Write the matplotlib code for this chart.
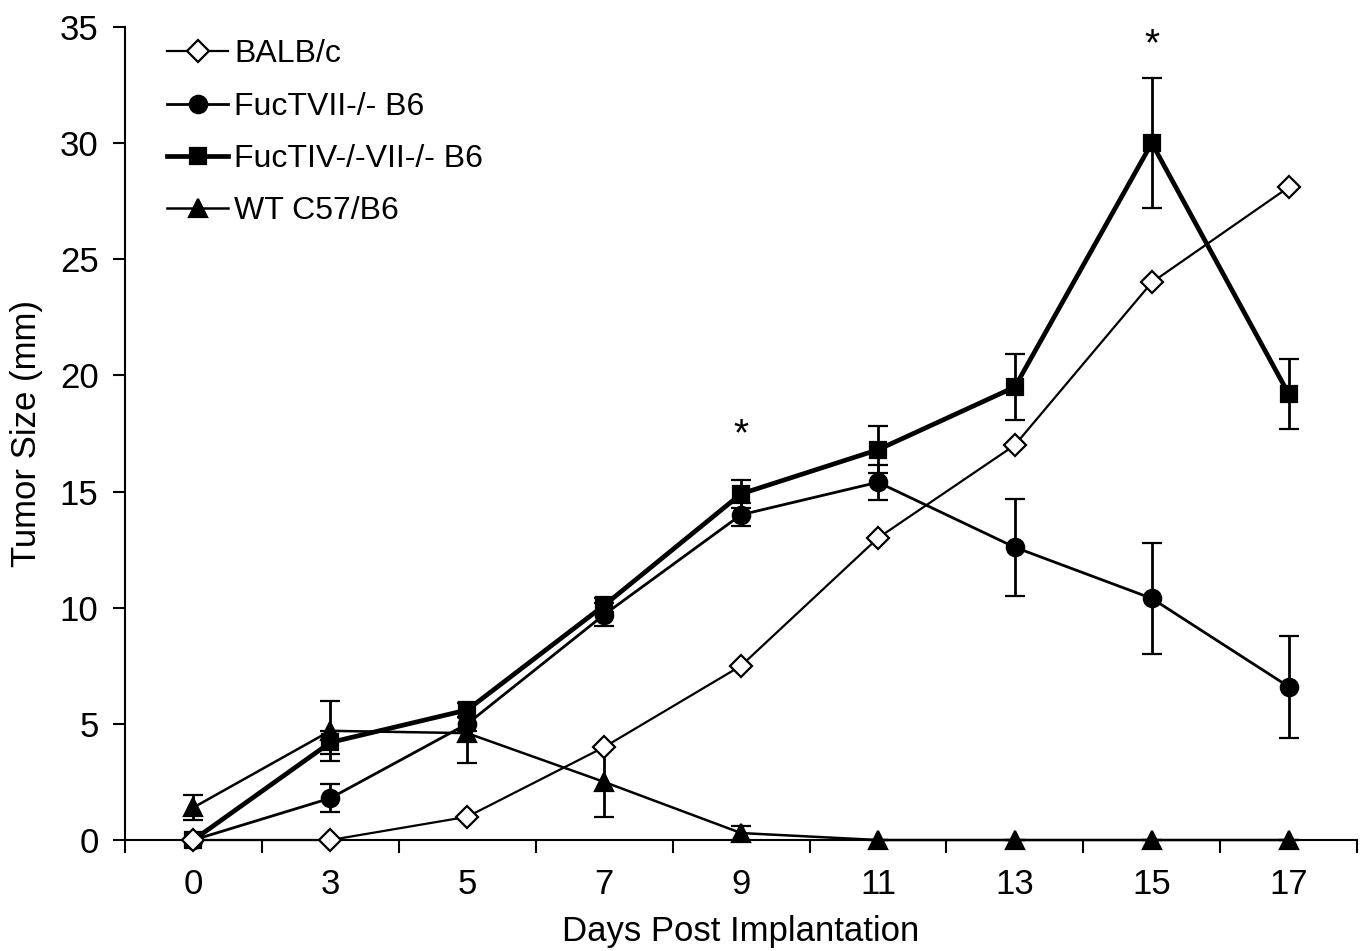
import numpy as np
import matplotlib
matplotlib.use("Agg")
import matplotlib.pyplot as plt
from matplotlib.ticker import FixedLocator
from matplotlib.lines import Line2D

plt.rcParams['font.family'] = ['Liberation Sans', 'DejaVu Sans']

days = ["0", "3", "5", "7", "9", "11", "13", "15", "17"]

balb = [0, 0, 1.0, 4.0, 7.5, 13.0, 17.0, 24.0, 28.1]
balb_err = [0, 0, 0, 0, 0, 0, 0, 0, 0]

fuc7 = [0, 1.8, 5.0, 9.7, 14.0, 15.4, 12.6, 10.4, 6.6]
fuc7_err = [0, 0.6, 0.3, 0.5, 0.5, 0.75, 2.1, 2.4, 2.2]

fuc47 = [0, 4.2, 5.6, 10.1, 14.9, 16.8, 19.5, 30.0, 19.2]
fuc47_err = [0, 0.5, 0.3, 0.3, 0.6, 1.0, 1.4, 2.8, 1.5]

wt = [1.4, 4.7, 4.6, 2.5, 0.3, 0, 0, 0, 0]
wt_err = [0.55, 1.3, 1.3, 1.5, 0.3, 0, 0, 0, 0]

stars_at = ["9", "15"]
stars_y = [17.4, 34.2]

fig = plt.figure(figsize=(13.63, 9.51), dpi=100)
ax = fig.add_axes([0.0917, 0.1167, 0.904, 0.855])
x = np.arange(len(days))

ebkw = dict(ecolor="black", elinewidth=2, capsize=7, capthick=2)

# (label, values, errors, marker, size, face, linewidth, zorder)
series = [
    ("BALB/c", balb, balb_err, "D", 11.5, "white", 1.6, 5),
    ("FucTVII-/- B6", fuc7, fuc7_err, "o", 12.5, "black", 2.0, 4),
    ("FucTIV-/-VII-/- B6", fuc47, fuc47_err, "s", 12, "black", 3.4, 4),
    ("WT C57/B6", wt, wt_err, "^", 12.5, "black", 1.8, 4),
]

handles = []
for lab, vals, err, mk, ms, fc, lw, z in series:
    ax.errorbar(x, vals, yerr=err, color="black", lw=lw, marker=mk, ms=ms,
                mfc=fc, mec="black", mew=1.6, clip_on=False, zorder=z, **ebkw)
    handles.append(Line2D([], [], color="black", lw=lw, marker=mk, ms=ms,
                          mfc=fc, mec="black", mew=1.6, label=lab))

for d, yv in zip(stars_at, stars_y):
    ax.text(days.index(d), yv, "*", ha="center", va="center", fontsize=28)

ax.set_xlim(-0.5, len(days) - 0.5)
ax.set_ylim(0, 35)
ax.set_xticks(x)
ax.set_xticklabels(days)
ax.xaxis.set_minor_locator(FixedLocator(np.arange(-0.5, len(days), 1.0)))
ax.tick_params(axis="x", which="major", length=0, pad=20, labelsize=25)
ax.tick_params(axis="x", which="minor", length=9, width=1.5, direction="out")
ax.set_yticks(np.arange(0, 36, 5))
ax.tick_params(axis="y", length=9, width=1.5, direction="out", labelsize=25, pad=10)

for s in ["top", "right"]:
    ax.spines[s].set_visible(False)
for s in ["left", "bottom"]:
    ax.spines[s].set_linewidth(1.5)

ax.set_xlabel("Days Post Implantation", fontsize=25, labelpad=10)
ax.set_ylabel("Tumor Size (mm)", fontsize=25, labelpad=12)

ax.legend(handles=handles, loc="upper left", frameon=False, fontsize=23,
          handlelength=1.9, handletextpad=0.2, labelspacing=0.7,
          bbox_to_anchor=(0.011, 1.02))
fig.savefig("out.png", dpi=100)
